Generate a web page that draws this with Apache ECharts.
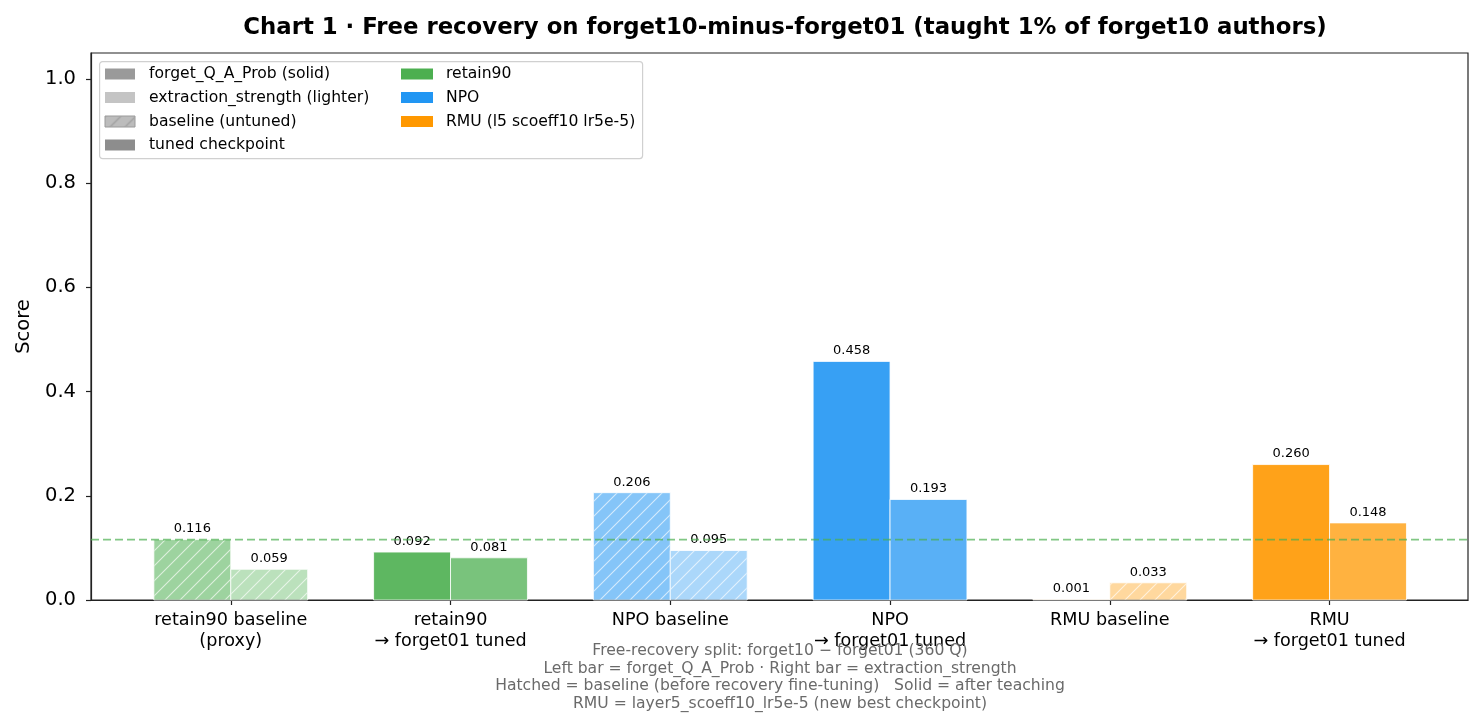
<!DOCTYPE html>
<html>
<head>
<meta charset="utf-8">
<script src="https://cdn.jsdelivr.net/npm/echarts@6/dist/echarts.min.js"></script>
<style>
html,body{margin:0;padding:0;background:#fff;}
#chart{width:1484px;height:728px;}
</style>
</head>
<body>
<div id="chart"></div>
<script>
// ---- data ----
const categories = ['retain90 baseline\n(proxy)', 'retain90\n→ forget01 tuned', 'NPO baseline', 'NPO\n→ forget01 tuned', 'RMU baseline', 'RMU\n→ forget01 tuned'];
const categoryMethod = ['retain90', 'retain90', 'NPO', 'NPO', 'RMU', 'RMU'];
const categoryIsBaseline = [true, false, true, false, true, false];
const forgetQAProb = [0.116, 0.092, 0.206, 0.458, 0.001, 0.260];
const extractionStrength = [0.059, 0.081, 0.095, 0.193, 0.033, 0.148];
const yTicks = [0, 0.2, 0.4, 0.6, 0.8, 1.0];
const referenceValue = forgetQAProb[0]; // retain90 baseline forget_Q_A_Prob
const legendLeft = ['forget_Q_A_Prob (solid)', 'extraction_strength (lighter)', 'baseline (untuned)', 'tuned checkpoint'];
const legendRight = ['retain90', 'NPO', 'RMU (l5 scoeff10 lr5e-5)'];
const footnoteLines = [
  'Free-recovery split: forget10 − forget01 (360 Q)',
  'Left bar = forget_Q_A_Prob · Right bar = extraction_strength',
  'Hatched = baseline (before recovery fine-tuning)   Solid = after teaching',
  'RMU = layer5_scoeff10_lr5e-5 (new best checkpoint)'
];

// ---- styles ----
const methodRGB = { retain90: [76, 175, 80], NPO: [33, 150, 243], RMU: [255, 152, 0] };
function rgba(c, a) { return 'rgba(' + c[0] + ',' + c[1] + ',' + c[2] + ',' + a + ')'; }
const FONT = 'DejaVu Sans';
const BAR_W = 0.35;
const X_MIN = -0.636, X_MAX = 5.63;

function makeHatch(color) {
  const s = 15;
  const c = document.createElement('canvas');
  c.width = s; c.height = s;
  const g = c.getContext('2d');
  g.strokeStyle = color;
  g.lineWidth = 1.1;
  g.beginPath();
  g.moveTo(0, s); g.lineTo(s, 0);
  g.moveTo(-2, 2); g.lineTo(2, -2);
  g.moveTo(s - 2, s + 2); g.lineTo(s + 2, s - 2);
  g.stroke();
  return c;
}
const hatchWhite = makeHatch('rgba(255,255,255,0.65)');
const hatchGrey = makeHatch('rgba(150,150,150,0.9)');

const barData = [];
for (let i = 0; i < categories.length; i++) {
  barData.push([i, forgetQAProb[i], 0]);
  barData.push([i, extractionStrength[i], 1]);
}

function renderBar(params, api) {
  const i = api.value(0), v = api.value(1), side = api.value(2);
  const x0 = i - BAR_W + side * BAR_W;
  const p0 = api.coord([x0, v]);
  const p1 = api.coord([x0 + BAR_W, 0]);
  const w = p1[0] - p0[0];
  const h = p1[1] - p0[1];
  const base = categoryIsBaseline[i];
  const alpha = base ? (side === 0 ? 0.55 : 0.38) : (side === 0 ? 0.9 : 0.75);
  const col = rgba(methodRGB[categoryMethod[i]], alpha);
  const children = [{
    type: 'rect',
    shape: { x: p0[0], y: p0[1], width: w, height: h },
    style: { fill: col, stroke: '#fff', lineWidth: 0.8 }
  }];
  if (base && h > 1) {
    children.push({
      type: 'rect',
      shape: { x: p0[0] + 0.5, y: p0[1] + 0.5, width: w - 1, height: h - 1 },
      style: { fill: { image: hatchWhite, repeat: 'repeat' } }
    });
  }
  children.push({
    type: 'text',
    style: {
      text: v.toFixed(3), x: p0[0] + w / 2, y: p0[1] - 4,
      align: 'center', verticalAlign: 'bottom',
      fontSize: 13, fontFamily: FONT, fill: '#000'
    }
  });
  return { type: 'group', children: children };
}

// ---- legend graphic ----
const legendGraphics = [];
legendGraphics.push({
  type: 'rect', left: 99, top: 61, z: 100,
  shape: { width: 543, height: 97, r: 3 },
  style: { fill: '#fff', stroke: '#d0d0d0', lineWidth: 1.2 }
});
const rowY = [74, 97.5, 121.5, 145];
const leftSw = [
  { fill: '#9a9a9a' },
  { fill: '#c4c4c4' },
  { fill: '#bcbcbc', hatch: true },
  { fill: '#8d8d8d' }
];
legendLeft.forEach(function (t, k) {
  const s = leftSw[k];
  const st = { fill: s.fill };
  if (s.hatch) { st.stroke = '#9a9a9a'; st.lineWidth = 1; }
  legendGraphics.push({
    type: 'rect', z: 101, x: 105, y: rowY[k] - 5.5,
    shape: { width: 30, height: 11 },
    style: st
  });
  if (s.hatch) {
    legendGraphics.push({
      type: 'rect', z: 102, x: 105.5, y: rowY[k] - 5,
      shape: { width: 29, height: 10 },
      style: { fill: { image: hatchGrey, repeat: 'repeat' } }
    });
  }
  legendGraphics.push({
    type: 'text', z: 101, x: 149, y: rowY[k],
    style: { text: t, fontSize: 15.6, fontFamily: FONT, fill: '#000', verticalAlign: 'middle' }
  });
});
const rightCols = [methodRGB.retain90, methodRGB.NPO, methodRGB.RMU];
legendRight.forEach(function (t, k) {
  legendGraphics.push({
    type: 'rect', z: 101, x: 401, y: rowY[k] - 5.5,
    shape: { width: 32, height: 11 },
    style: { fill: rgba(rightCols[k], 1) }
  });
  legendGraphics.push({
    type: 'text', z: 101, x: 446, y: rowY[k],
    style: { text: t, fontSize: 15.6, fontFamily: FONT, fill: '#000', verticalAlign: 'middle' }
  });
});
legendGraphics.push({
  type: 'text', z: 100, x: 780, y: 642,
  style: {
    text: footnoteLines.join('\n'), fontSize: 15.6, lineHeight: 17.7, fontFamily: FONT,
    fill: '#6a6a6a', align: 'center', verticalAlign: 'top'
  }
});

const chart = echarts.init(document.getElementById('chart'), null, { renderer: 'canvas' });
chart.setOption({
  animation: false,
  backgroundColor: '#fff',
  textStyle: { fontFamily: FONT },
  title: {
    text: 'Chart 1 · Free recovery on forget10-minus-forget01 (taught 1% of forget10 authors)',
    left: 780, top: 12, textAlign: 'center',
    textStyle: { fontSize: 22.8, fontWeight: 'bold', fontFamily: FONT, color: '#000' }
  },
  grid: { left: 91, right: 16, top: 53, bottom: 128, show: true, borderColor: '#222', borderWidth: 1.2, backgroundColor: 'transparent' },
  xAxis: {
    type: 'value', min: X_MIN, max: X_MAX,
    splitLine: { show: false },
    axisLine: { show: true, onZero: false, lineStyle: { color: '#222', width: 1.2 } },
    axisTick: { show: true, length: 5, customValues: categories.map(function (c, i) { return i; }), lineStyle: { color: '#222', width: 1.2 } },
    axisLabel: {
      customValues: categories.map(function (c, i) { return i; }),
      formatter: function (v) { return categories[Math.round(v)]; },
      fontSize: 17.6, lineHeight: 21, color: '#000', margin: 10, fontFamily: FONT
    }
  },
  yAxis: {
    type: 'value', min: 0, max: 1.05,
    name: 'Score', nameLocation: 'middle', nameGap: 57,
    nameTextStyle: { fontSize: 19.5, color: '#000', fontFamily: FONT },
    splitLine: { show: false },
    axisLine: { show: true, onZero: false, lineStyle: { color: '#222', width: 1.2 } },
    axisTick: { show: true, length: 5, customValues: yTicks, lineStyle: { color: '#222', width: 1.2 } },
    axisLabel: {
      customValues: yTicks,
      formatter: function (v) { return v.toFixed(1); },
      fontSize: 19.5, color: '#000', margin: 15, fontFamily: FONT
    }
  },
  graphic: legendGraphics,
  series: [
    {
      type: 'custom', renderItem: renderBar, data: barData, z: 2, clip: false,
      encode: { x: 0, y: 1 }
    },
    {
      type: 'line', z: 5, symbol: 'none', silent: true,
      data: [[X_MIN, referenceValue], [X_MAX, referenceValue]],
      lineStyle: { color: 'rgba(76,175,80,0.7)', width: 1.8, type: [8, 4] }
    }
  ]
});
</script>
</body>
</html>
